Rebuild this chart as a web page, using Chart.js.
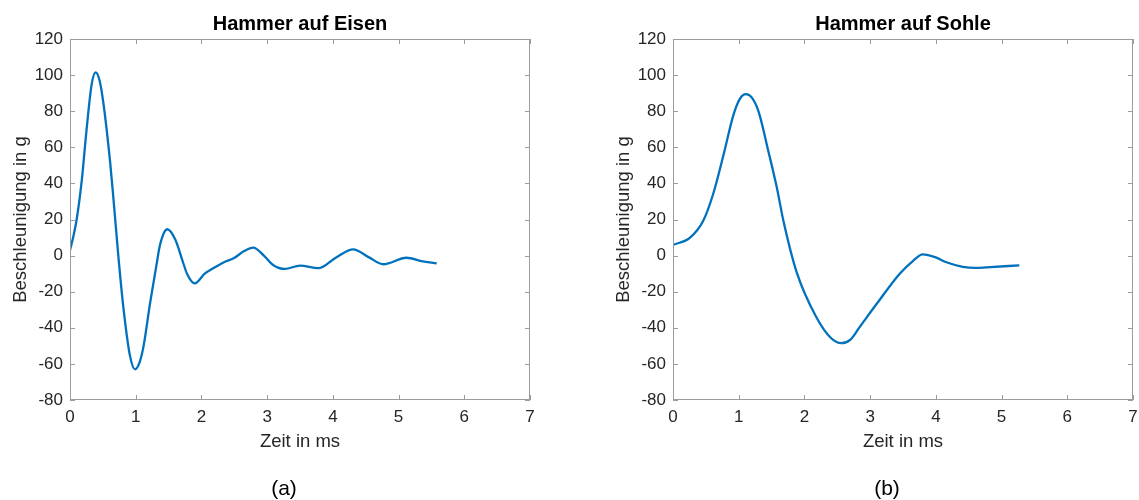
<!DOCTYPE html>
<html>
<head>
<meta charset="utf-8">
<script src="https://cdn.jsdelivr.net/npm/chart.js@4.4.1/dist/chart.umd.min.js"></script>
<style>
  html, body { margin: 0; padding: 0; background: #fff; overflow: hidden; width: 1139px; height: 500px; }
  .plot { position: absolute; top: 0; width: 570px; height: 500px; }
  .caption { position: absolute; top: 476px; width: 100px; text-align: center;
             font: 21px 'Liberation Sans', Arial, Helvetica, sans-serif; line-height: 24px; color: #000; }
</style>
</head>
<body>
<div class="plot" style="left:0"><canvas id="chartA" width="570" height="500"></canvas></div>
<div class="plot" style="left:603px"><canvas id="chartB" width="570" height="500"></canvas></div>
<div class="caption" style="left:234px">(a)</div>
<div class="caption" style="left:837px">(b)</div>

<script>
/* ── Data ── */
const timeA  = [0, 0.05, 0.10, 0.18, 0.25, 0.33, 0.39, 0.45, 0.51, 0.61,
                0.66, 0.735, 0.81, 0.91, 0.99, 1.06, 1.12, 1.22, 1.32, 1.37,
                1.48, 1.60, 1.72, 1.78, 1.90, 2.05, 2.18, 2.35, 2.49, 2.65,
                2.79, 2.95, 3.09, 3.27, 3.50, 3.78, 4.05, 4.31, 4.55, 4.77,
                5.12, 5.35, 5.58];
const accelA = [3, 10.5, 19.7, 42, 69, 95, 101.5, 97, 84, 52,
                32, 0, -28, -55, -63, -59, -50, -26, -4.3, 6,
                14.6, 9, -3.7, -10, -15.4, -10, -7, -3.5, -1.5, 2.5,
                4.4, 0, -5.2, -7.4, -5.5, -6.9, -1, 3.5, -1, -4.8,
                -1.2, -3, -4.3];

const timeB  = [0, 0.26, 0.46, 0.61, 0.77, 0.92, 1.02, 1.11, 1.20, 1.30,
                1.45, 1.58, 1.68, 1.88, 2.18, 2.40, 2.56, 2.70, 2.84, 3.10,
                3.45, 3.65, 3.80, 4.00, 4.16, 4.41, 4.60, 4.77, 5.27];
const accelB = [5.9, 10, 19.3, 34, 56, 78, 87, 89.5, 87.5, 80,
                58, 37.7, 19.3, -9, -34, -45.5, -48.5, -46.5, -39.6, -26.7,
                -10, -3, 0.7, -1, -3.7, -6.2, -6.8, -6.5, -5.4];

const xRange = [0, 7];
const yRange = [-80, 120];
const xStep = 1;
const yStep = 20;

const titles = ['Hammer auf Eisen', 'Hammer auf Sohle'];
const xLabel = 'Zeit in ms';
const yLabel = 'Beschleunigung in g';

Chart.defaults.font.family = "'Liberation Sans', Arial, Helvetica, sans-serif";

/* ── MATLAB-style box with inward ticks ── */
const matlabBox = {
  id: 'matlabBox',
  afterDatasetsDraw(chart) {
    const { ctx, chartArea: a, scales: { x, y } } = chart;
    ctx.save();
    ctx.strokeStyle = '#9c9c9c';
    ctx.lineWidth = 1;
    ctx.strokeRect(Math.round(a.left) + 0.5, Math.round(a.top) + 0.5,
                   Math.round(a.width) - 1, Math.round(a.height) - 1);
    ctx.beginPath();
    x.ticks.forEach(t => {
      const px = Math.round(x.getPixelForValue(t.value)) + 0.5;
      ctx.moveTo(px, a.bottom); ctx.lineTo(px, a.bottom - 5);
      ctx.moveTo(px, a.top);    ctx.lineTo(px, a.top + 5);
    });
    y.ticks.forEach(t => {
      const py = Math.round(y.getPixelForValue(t.value)) + 0.5;
      ctx.moveTo(a.left, py);  ctx.lineTo(a.left + 5, py);
      ctx.moveTo(a.right, py); ctx.lineTo(a.right - 5, py);
    });
    ctx.stroke();
    ctx.restore();
  }
};

function chartOptions(titleText) {
  const tickFont = { size: 17 };
  return {
    responsive: false,
    animation: false,
    layout: { padding: { left: 0, top: 0, right: 40, bottom: 40 } },
    plugins: {
      legend: { display: false },
      tooltip: { enabled: false },
      title: {
        display: true, text: titleText, fullSize: false, color: '#000',
        font: { size: 20, weight: 'bold' }, padding: { top: 12, bottom: 3 },
      },
    },
    scales: {
      x: {
        type: 'linear', min: xRange[0], max: xRange[1],
        ticks: { stepSize: xStep, color: '#262626', font: tickFont, padding: 7 },
        grid: { display: false, drawTicks: false },
        border: { display: false },
        title: { display: true, text: xLabel, color: '#262626', font: { size: 18.5 }, padding: { top: 0, bottom: 7.4 } },
        afterFit: s => { s.height = 60; },
      },
      y: {
        type: 'linear', min: yRange[0], max: yRange[1],
        ticks: { stepSize: yStep, color: '#262626', font: tickFont, padding: 7 },
        grid: { display: false, drawTicks: false },
        border: { display: false },
        title: { display: true, text: yLabel, color: '#262626', font: { size: 18.5 }, padding: { top: 9.5, bottom: 0 } },
        afterFit: s => { s.width = 70; },
      },
    },
  };
}

function makeChart(id, times, values, titleText) {
  new Chart(document.getElementById(id), {
    type: 'line',
    data: {
      datasets: [{
        data: times.map((t, i) => ({ x: t, y: values[i] })),
        borderColor: '#0072BD',
        borderWidth: 2.3,
        pointRadius: 0,
        cubicInterpolationMode: 'monotone',
        fill: false,
      }],
    },
    options: chartOptions(titleText),
    plugins: [matlabBox],
  });
}

makeChart('chartA', timeA, accelA, titles[0]);
makeChart('chartB', timeB, accelB, titles[1]);
</script>
</body>
</html>
